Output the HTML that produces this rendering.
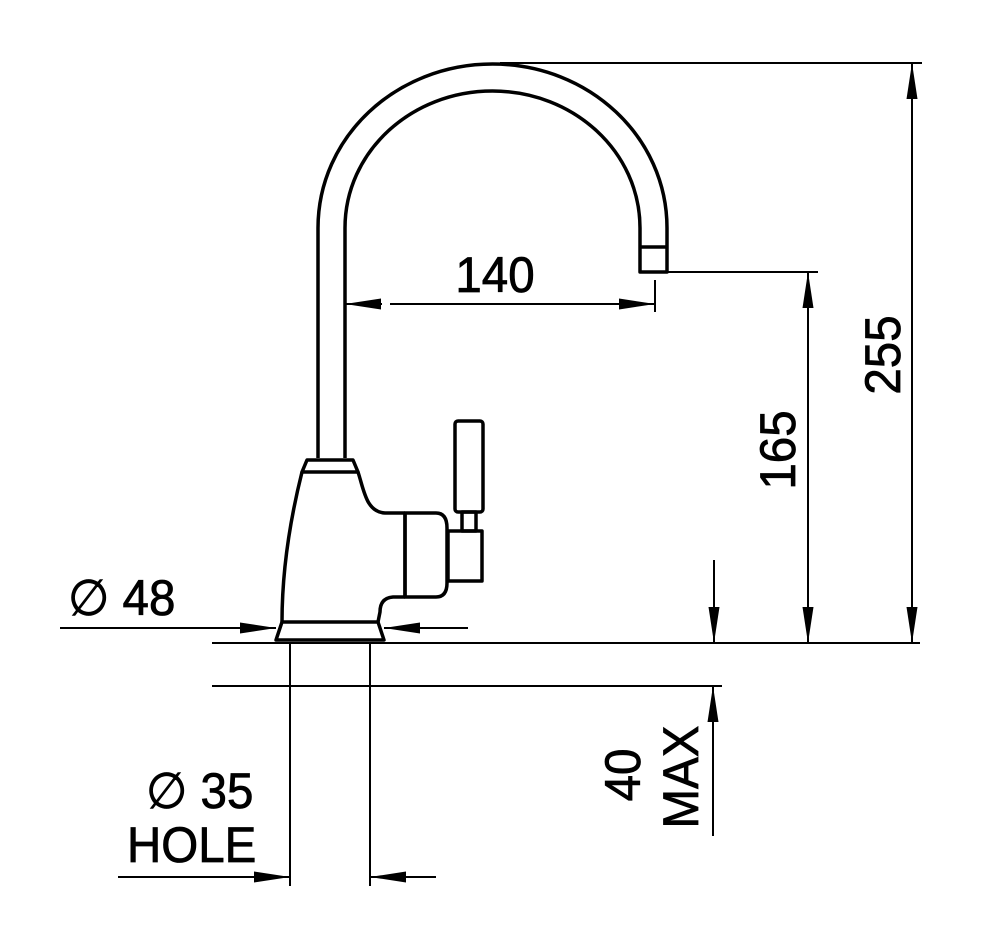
<!DOCTYPE html>
<html><head><meta charset="utf-8"><style>
html,body{margin:0;padding:0;background:#fff;}
svg{display:block}
text{font-family:"Liberation Sans",Arial,sans-serif;fill:#000;stroke:#000;stroke-width:0.8;}
</style></head><body>
<svg width="1000" height="935" viewBox="0 0 1000 935" xmlns="http://www.w3.org/2000/svg">
<defs>
<marker id="a" viewBox="0 0 36 12" refX="36" refY="6" markerWidth="36" markerHeight="13" markerUnits="userSpaceOnUse" orient="auto">
<path d="M0,0.5 L36,6 L0,11.5 Z" fill="#000"/>
</marker>
</defs>
<g fill="none" stroke="#000" stroke-width="3.5" stroke-linejoin="round">
<path d="M318,458 L318,228 C318,137 396,64 492.5,64 C589,64 667,137 667,228 L667,272 L640,272 L640,228 C640,152 574,91 492.5,91 C411,91 345,152 345,228 L345,458"/>
<line x1="640" y1="247" x2="667" y2="247"/>
<path d="M307,460 L353,460 L358,472 L302,472 Z"/>
<path d="M302,472 C290,520 282,570 282,622"/>
<path d="M358,472 C364,490 366,512 385,513 L405,513"/>
<path d="M405,513 L436,513 Q447,513 447,528 L447,583 Q447,597 436,597 L405,597 Z"/>
<line x1="405" y1="513" x2="405" y2="597"/>
<path d="M405,597 L393,597 Q380,598 380,612 L378,622"/>
<path d="M282,622 L378,622 L384,640 L276,640 Z"/>
<rect x="448" y="531" width="34" height="50"/>
<rect x="462" y="512" width="14" height="19"/>
<rect x="455" y="421" width="28" height="91" rx="3"/>
</g>
<g stroke="#000" stroke-width="2" fill="none">
<line x1="212" y1="643" x2="920" y2="643"/>
<line x1="212" y1="686" x2="722" y2="686"/>
<line x1="290" y1="643" x2="290" y2="886"/>
<line x1="370" y1="643" x2="370" y2="886"/>
<line x1="500" y1="63" x2="922" y2="63"/>
<line x1="667" y1="272" x2="818" y2="272"/>
<line x1="345" y1="290" x2="345" y2="320"/>
<line x1="655" y1="280" x2="655" y2="312"/>
<line x1="390" y1="304" x2="620" y2="304"/>
<line x1="382" y1="304" x2="345" y2="304" marker-end="url(#a)"/>
<line x1="610" y1="304" x2="655" y2="304" marker-end="url(#a)"/>
<line x1="912" y1="100" x2="912" y2="63" marker-end="url(#a)"/>
<line x1="912" y1="100" x2="912" y2="643" marker-end="url(#a)"/>
<line x1="808" y1="310" x2="808" y2="272" marker-end="url(#a)"/>
<line x1="808" y1="310" x2="808" y2="643" marker-end="url(#a)"/>
<line x1="714" y1="560" x2="714" y2="643" marker-end="url(#a)"/>
<line x1="713" y1="836" x2="713" y2="686" marker-end="url(#a)"/>
<line x1="60" y1="628" x2="276" y2="628" marker-end="url(#a)"/>
<line x1="468" y1="628" x2="384" y2="628" marker-end="url(#a)"/>
<line x1="118" y1="877" x2="290" y2="877" marker-end="url(#a)"/>
<line x1="436" y1="877" x2="370" y2="877" marker-end="url(#a)"/>
</g>
<g font-size="50">
<text transform="translate(495,292) scale(0.95,1)" text-anchor="middle">140</text>
<text transform="translate(900,355) rotate(-90) scale(0.95,1)" text-anchor="middle">255</text>
<text transform="translate(795,450) rotate(-90) scale(0.95,1)" text-anchor="middle">165</text>
<text transform="translate(640,775) rotate(-90) scale(0.95,1)" text-anchor="middle">40</text>
<text transform="translate(698,777) rotate(-90) scale(0.95,1)" text-anchor="middle">MAX</text>
<text transform="translate(68,615) scale(0.95,1)">∅ 48</text>
<text transform="translate(146,808) scale(0.95,1)">∅ 35</text>
<text transform="translate(127,862) scale(0.95,1)">HOLE</text>
</g>
</svg>
</body></html>
